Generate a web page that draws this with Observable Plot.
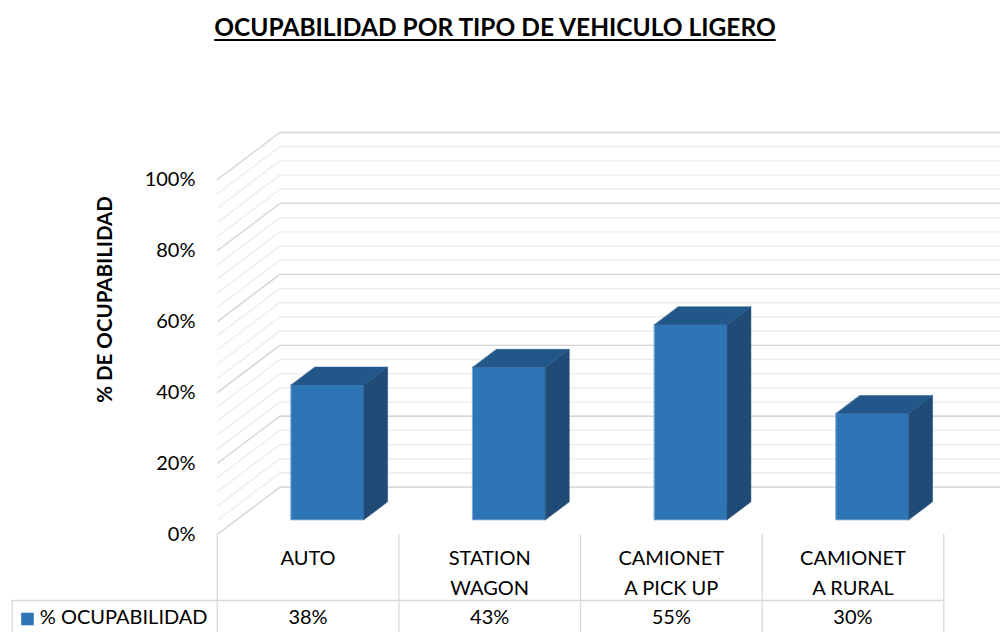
<!DOCTYPE html>
<html>
<head>
<meta charset="utf-8">
<script src="https://cdn.jsdelivr.net/npm/d3@7"></script>
<script src="https://cdn.jsdelivr.net/npm/@observablehq/plot@0.6"></script>
<style>
  html, body { margin: 0; padding: 0; background: #fff; }
  #title { height: 50px; box-sizing: border-box; padding-top: 15px; padding-right: 10px; text-align: center;
           font: bold 24.5px Lato, sans-serif; line-height: 1; color: #000; }
  #title span { text-decoration: underline; text-underline-offset: 3px; text-decoration-thickness: 2px; }
  #chart svg { display: block; }
</style>
</head>
<body>
<div id="title"><span>OCUPABILIDAD POR TIPO DE VEHICULO LIGERO</span></div>
<div id="chart"></div>
<script>
// ---- data ----
const categories = ["AUTO", "STATION\nWAGON", "CAMIONET\nA PICK UP", "CAMIONET\nA RURAL"];
const values = [0.38, 0.43, 0.55, 0.30];
const valueLabels = ["38%", "43%", "55%", "30%"];
const yTicks = [0, 0.2, 0.4, 0.6, 0.8, 1.0];
const minorTicks = d3.range(0, 26).map(i => i * 4 / 100);
const seriesName = "% OCUPABILIDAD";
const yTitle = "% DE OCUPABILIDAD";

// ---- layout / style ----
const W = 1000, H = 582;
const ML = 216.7, MR = 56.7, MT = 129.3, MB = 98;
const colPx = (W - ML - MR) / categories.length;
const yPx = H - MT - MB;
const DX = 62.7 / colPx;   // depth offset in column units
const DY = 47.3 / yPx;     // depth offset in value units
const D0 = 0.31, D1 = 0.69, BW = 0.4;
const C_FRONT = "#2e75b6", C_TOP = "#22578a", C_SIDE = "#1f4b76";
const GRID_MAJOR = "#d6d6d6", GRID_MINOR = "#ebebeb", TABLE = "#d9d9d9";

const P = (c, v, d) => ({x: c + d * DX, y: v + d * DY});
const faces = [];
values.forEach((v, i) => {
  const c0 = i + 0.5 - BW / 2, c1 = i + 0.5 + BW / 2;
  const add = (kind, pts) => pts.forEach(p => faces.push({id: kind + i, kind, ...p}));
  add("front", [P(c0, 0, D0), P(c1, 0, D0), P(c1, v, D0), P(c0, v, D0)]);
  add("side", [P(c1, 0, D0), P(c1, 0, D1), P(c1, v, D1), P(c1, v, D0)]);
  add("top", [P(c0, v, D0), P(c1, v, D0), P(c1, v, D1), P(c0, v, D1)]);
});
const ofKind = k => faces.filter(f => f.kind === k);

const fam = "Lato, sans-serif";
const chart = Plot.plot({
  width: W, height: H,
  marginLeft: ML, marginRight: MR, marginTop: MT, marginBottom: MB,
  x: {domain: [0, categories.length], axis: null},
  y: {domain: [0, 1], axis: null},
  style: {fontFamily: fam, background: "#fff", color: "#000", overflow: "visible"},
  marks: [
    // walls gridlines
    Plot.link(minorTicks, {x1: DX, y1: d => d + DY, x2: categories.length + DX, y2: d => d + DY, stroke: GRID_MINOR, strokeWidth: 1.3}),
    Plot.link(minorTicks, {x1: 0, y1: d => d, x2: DX, y2: d => d + DY, stroke: GRID_MINOR, strokeWidth: 1.3}),
    Plot.link(yTicks, {x1: DX, y1: d => d + DY, x2: categories.length + DX, y2: d => d + DY, stroke: GRID_MAJOR, strokeWidth: 1.3}),
    Plot.link(yTicks, {x1: 0, y1: d => d, x2: DX, y2: d => d + DY, stroke: GRID_MAJOR, strokeWidth: 1.3}),
    // 3D bars
    Plot.line(ofKind("front"), {x: "x", y: "y", z: "id", curve: "linear-closed", fill: C_FRONT, stroke: "#5b93cc", strokeWidth: 0.8}),
    Plot.line(ofKind("side"), {x: "x", y: "y", z: "id", curve: "linear-closed", fill: C_SIDE, stroke: C_SIDE, strokeWidth: 0.5}),
    Plot.line(ofKind("top"), {x: "x", y: "y", z: "id", curve: "linear-closed", fill: C_TOP, stroke: C_TOP, strokeWidth: 0.5}),
    // y tick labels
    Plot.text(yTicks, {x: 0, y: d => d, text: d => d3.format(".0%")(d), textAnchor: "end", dx: -21.7, fontSize: 20, fill: "#000"}),
    // y title
    Plot.text([yTitle], {frameAnchor: "left", textAnchor: "middle", rotate: -90, dx: -111.7, dy: -57.7, fontSize: 20.5, fontWeight: "bold", fill: "#000"}),
    // data table
    Plot.ruleX(d3.range(categories.length + 1), {insetTop: yPx, insetBottom: -MB, stroke: TABLE, strokeWidth: 1.3}),
    Plot.ruleY([0], {dy: 66, insetLeft: -205, stroke: TABLE, strokeWidth: 1.3}),
    Plot.ruleX([0], {dx: -205, insetTop: yPx + 66, insetBottom: -MB, stroke: TABLE, strokeWidth: 1.3}),
    Plot.text(categories, {x: (d, i) => i + 0.5, frameAnchor: "bottom", lineAnchor: "top", dy: 9, lineHeight: 1.5, fontSize: 20, fill: "#000"}),
    Plot.text(valueLabels, {x: (d, i) => i + 0.5, frameAnchor: "bottom", lineAnchor: "middle", dy: 83, fontSize: 20, fill: "#000"}),
    Plot.dot([seriesName], {frameAnchor: "bottom-left", dx: -189.7, dy: 84.5, symbol: "square", r: 7.1, fill: C_FRONT, stroke: "none"}),
    Plot.text([seriesName], {frameAnchor: "bottom-left", dx: -177.4, dy: 83, textAnchor: "start", lineAnchor: "middle", fontSize: 20, fill: "#000"})
  ]
});
document.getElementById("chart").appendChild(chart);
</script>
</body>
</html>
